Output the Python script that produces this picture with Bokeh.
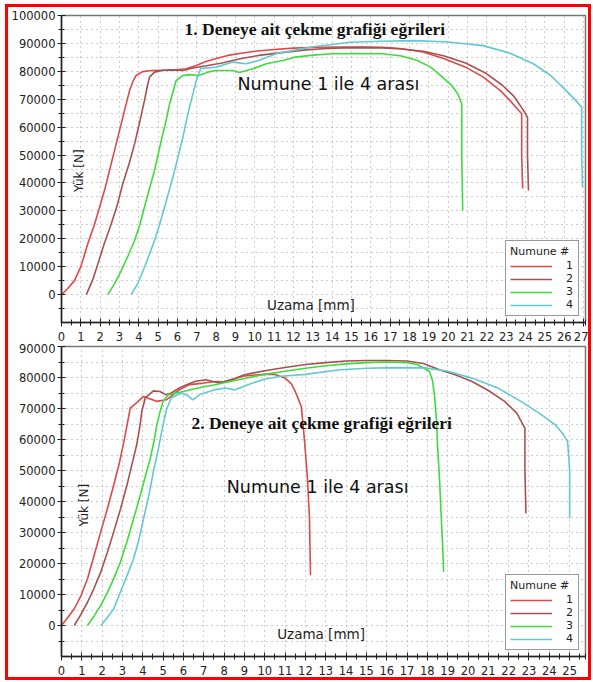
from math import pi
from bokeh.plotting import figure
from bokeh.layouts import column, row
from bokeh.models import FixedTicker, BasicTickFormatter, Label, Spacer
from bokeh.embed import file_html
from bokeh.resources import INLINE

# ---------------- data: test 1 ----------------
t1_x1 = [0, 0.3, 0.67, 1.0, 1.36, 1.7, 1.97, 2.25, 2.48, 2.83, 3.17, 3.52, 3.7, 3.86, 4.2, 4.64, 5.2, 5.8, 6.45, 7.0, 7.4, 8.0,
         8.6, 9.3, 10.0, 11.0, 12.0, 13.2, 14.5, 15.5, 16.6, 17.5, 18.7, 19.8, 20.9, 21.8, 22.7, 23.2, 23.5, 23.8, 23.8, 23.85]
t1_y1 = [0, 2000, 5000, 10000, 18200, 25000, 31300, 38000, 44400, 54000, 63500, 73100, 76500, 78500, 79900, 80300, 80400, 80500,
         80900, 82200, 83300, 84600, 85700, 86500, 87200, 87800, 88300, 88600, 88700, 88700, 88600, 88200, 86900, 84500, 81500,
         78000, 73100, 69500, 67100, 64800, 50000, 38000]
t1_x2 = [1.28, 1.6, 1.88, 2.2, 2.57, 2.9, 3.17, 3.5, 3.78, 4.05, 4.29, 4.45, 4.55, 4.81, 5.2, 5.8, 6.3, 6.8, 7.5, 8.3, 9.3, 10.3,
         11.5, 12.5, 13.5, 14.5, 15.5, 16.6, 17.6, 18.7, 19.8, 20.9, 21.9, 22.8, 23.4, 23.8, 24.1, 24.1, 24.15]
t1_y2 = [0, 5000, 11000, 18000, 25300, 32500, 39700, 47000, 54000, 62000, 69500, 75000, 77900, 79700, 80300, 80500, 80300, 81200,
         82000, 83000, 84600, 85800, 86800, 87600, 88100, 88400, 88500, 88400, 88000, 87200, 85500, 83000, 79500, 75000, 71000,
         67000, 63600, 50000, 37300]
t1_x3 = [2.4, 2.75, 3.09, 3.45, 3.78, 4.05, 4.29, 4.55, 4.81, 5.16, 5.4, 5.59, 5.8, 5.93, 6.28, 6.6, 7.1, 7.6, 8.0, 8.86, 9.2,
         9.9, 10.6, 11.45, 12.1, 13.0, 14.0, 15.3, 16.6, 17.6, 18.4, 19.1, 19.7, 20.2, 20.5, 20.7, 20.7, 20.75]
t1_y3 = [0, 4000, 8600, 14000, 19400, 25000, 31300, 38000, 44400, 55200, 62000, 68300, 73500, 76700, 78500, 78800, 78500, 79800,
         80300, 80300, 79600, 80900, 82700, 83900, 85100, 85800, 86300, 86400, 86300, 85500, 83900, 81500, 77900, 74800, 71900,
         68300, 50000, 30100]
t1_x4 = [3.6, 3.95, 4.29, 4.55, 4.81, 5.07, 5.33, 5.6, 5.85, 6.05, 6.28, 6.45, 6.62, 6.8, 6.97, 7.05, 7.2, 8.0, 8.86, 9.55, 10.2,
         11.1, 12.0, 13.0, 14.0, 14.9, 16.5, 18.3, 20.0, 21.8, 23.2, 24.4, 25.3, 26.1, 26.6, 26.9, 26.9, 26.95]
t1_y4 = [0, 4000, 9800, 14500, 19400, 25000, 31300, 38000, 44400, 50000, 56400, 62000, 67100, 72000, 76700, 78200, 81000, 81500,
         83300, 82700, 83900, 86300, 87500, 88800, 89600, 90400, 90800, 91000, 90500, 89200, 86500, 82700, 78500, 73100, 69500,
         67100, 50000, 38500]

# ---------------- data: test 2 ----------------
t2_x1 = [0, 0.3, 0.63, 0.95, 1.28, 1.6, 1.93, 2.25, 2.57, 2.85, 3.07, 3.25, 3.38, 3.6, 3.85, 4.04, 4.3, 4.68, 5.16, 5.5, 5.8,
         6.3, 7.0, 7.6, 8.0, 8.9, 9.5, 10.0, 10.5, 11.0, 11.3, 11.5, 11.8, 11.96, 12.1, 12.2, 12.25]
t2_y1 = [0, 2500, 5400, 9500, 15100, 22500, 30200, 37500, 45300, 52500, 59300, 65500, 70100, 71300, 72800, 73900, 73200, 72300,
         72800, 74500, 76000, 77700, 78200, 78700, 78500, 80400, 80800, 81000, 81000, 79800, 78000, 75500, 70600, 59300, 47500,
         34500, 16200]
t2_x2 = [0.63, 0.95, 1.28, 1.6, 1.93, 2.25, 2.57, 2.9, 3.22, 3.45, 3.70, 3.85, 3.95, 4.12, 4.3, 4.52, 4.84, 5.16, 5.4, 5.8, 6.15,
         6.6, 7.1, 7.75, 8.5, 9.0, 10.0, 11.0, 12.0, 13.0, 14.0, 15.0, 16.0, 17.0, 17.8, 18.6, 19.4, 20.2, 21.0, 21.8, 22.4, 22.8,
         22.8, 22.85]
t2_y2 = [0, 3500, 7500, 12000, 17200, 23500, 30200, 37500, 45300, 51500, 58300, 64000, 69000, 73400, 74500, 75700, 75500, 74400,
         75000, 76600, 77700, 78800, 79300, 78200, 79600, 80900, 82200, 83200, 84200, 84800, 85300, 85500, 85500, 85300, 84500,
         82500, 80800, 78700, 75800, 72300, 68500, 63600, 50000, 36100]
t2_x3 = [1.28, 1.6, 1.93, 2.25, 2.57, 2.9, 3.22, 3.55, 3.88, 4.12, 4.37, 4.55, 4.69, 4.85, 5.0, 5.25, 5.6, 6.0, 6.5, 7.0, 7.5, 8.0,
         9.0, 10.0, 11.0, 12.0, 13.0, 14.0, 15.0, 16.0, 17.0, 17.5, 18.1, 18.25, 18.35, 18.45, 18.5, 18.6, 18.67, 18.75, 18.8]
t2_y3 = [0, 3000, 6500, 10500, 15100, 20500, 27000, 34500, 42100, 48000, 53900, 59500, 64700, 69000, 72300, 74400, 74900, 75500,
         76300, 77000, 77600, 78300, 79700, 81000, 82000, 83000, 83800, 84400, 84800, 85000, 84800, 84200, 82000, 79000, 74400,
         66000, 58300, 47000, 36700, 26000, 17300]
t2_x4 = [1.93, 2.25, 2.57, 2.9, 3.22, 3.55, 3.8, 4.04, 4.3, 4.52, 4.75, 4.93, 5.16, 5.4, 5.9, 6.2, 6.46, 6.8, 7.5, 8.07, 8.5, 9.4,
         10.0, 10.8, 12.0, 13.7, 15.0, 16.5, 17.9, 19.0, 20.2, 21.5, 22.6, 23.5, 24.3, 24.7, 24.9, 25.0, 25.0]
t2_y4 = [0, 2500, 5400, 10800, 16000, 21600, 27500, 34500, 42000, 49600, 56500, 62600, 69600, 73400, 75000, 74200, 72800, 74500,
         76000, 76600, 76000, 78200, 79500, 80400, 81000, 82500, 83000, 83200, 83100, 82000, 79800, 76500, 72300, 68500, 64700,
         61500, 59300, 50000, 34500]

series_names = ["1", "2", "3", "4"]
series_colors = ["#e04848", "#a85050", "#3ddc3d", "#62c9d2"]

x_ticks_1 = list(range(0, 28))
x_ticks_2 = list(range(0, 26))
y_ticks_1 = list(range(0, 100001, 10000))
y_ticks_2 = list(range(0, 90001, 10000))

title_1 = "1. Deneye ait çekme grafiği eğrileri"
title_2 = "2. Deneye ait çekme grafiği eğrileri"
note_text = "Numune 1 ile 4 arası"
x_label = "Uzama [mm]"
y_label = "Yük [N]"
legend_title = "Numune #"


def make_fig(xs, ys, x_end, y_end, x_ticks, y_ticks, height, mb_top, mb_left, mb_right,
             title, title_pos, note_pos, xlab_pos, ylab_pos):
    p = figure(width=580, height=height, x_range=(0, x_end), y_range=(-10000, y_end),
               output_backend="svg", toolbar_location=None,
               min_border_top=mb_top, min_border_left=mb_left, min_border_right=mb_right,
               min_border_bottom=0, background_fill_color="white", border_fill_color="white")
    p.outline_line_color = "#777777"
    p.outline_line_width = 1.5

    xminor = [t + 0.5 for t in x_ticks] + [x_end]
    yminor = [t - 5000 for t in y_ticks] + [y_ticks[-1] + 5000]
    p.xaxis.ticker = FixedTicker(ticks=x_ticks, minor_ticks=xminor)
    p.yaxis.ticker = FixedTicker(ticks=y_ticks, minor_ticks=yminor)
    p.yaxis.formatter = BasicTickFormatter(use_scientific=False)
    for ax in (p.xaxis[0], p.yaxis[0]):
        ax.axis_line_color = "#222222"
        ax.axis_line_width = 1.5
        ax.major_tick_in = 4
        ax.major_tick_out = 4
        ax.minor_tick_in = 3
        ax.minor_tick_out = 3
        ax.major_tick_line_color = "#222222"
        ax.minor_tick_line_color = "#222222"
        ax.major_label_text_font = "DejaVu Sans"
        ax.major_label_text_font_size = "11.5px"
        ax.major_label_text_color = "#222222"
    p.xaxis.major_label_standoff = 5
    p.yaxis.major_label_standoff = 2

    p.xgrid.ticker = FixedTicker(ticks=x_ticks)
    p.ygrid.ticker = FixedTicker(ticks=[t for t in yminor] + y_ticks)
    for g in (p.xgrid[0], p.ygrid[0]):
        g.grid_line_color = "#9a9a9a"
        g.grid_line_dash = "1 4"
        g.grid_line_width = 1

    for x, y, name, color in zip(xs, ys, series_names, series_colors):
        p.line(x, y, line_color=color, line_width=1.6, legend_label=name)

    lg = p.legend[0]
    lg.title = legend_title
    lg.title_text_font = "DejaVu Sans"
    lg.title_text_font_size = "11px"
    lg.title_text_font_style = "normal"
    lg.title_text_color = "#222222"
    lg.title_standoff = 1
    lg.label_text_font = "DejaVu Sans"
    lg.label_text_font_size = "11px"
    lg.label_text_color = "#222222"
    lg.label_height = 12
    lg.glyph_height = 12
    lg.glyph_width = 42
    lg.label_standoff = 14
    lg.label_width = 8
    lg.spacing = 0
    lg.padding = 4
    lg.margin = 6
    lg.location = "bottom_right"
    lg.border_line_color = "#333333"
    lg.border_line_width = 1.5
    lg.background_fill_alpha = 1

    p.add_layout(Label(x=title_pos[0], y=title_pos[1], text=title, text_align="center", text_baseline="middle",
                       text_font="Liberation Serif", text_font_style="bold", text_font_size="17.5px",
                       text_color="#111111"))
    p.add_layout(Label(x=note_pos[0], y=note_pos[1], text=note_text, text_align="center", text_baseline="middle",
                       text_font="DejaVu Sans", text_font_size="17.5px", text_color="#111111"))
    p.add_layout(Label(x=xlab_pos[0], y=xlab_pos[1], text=x_label, text_align="center", text_baseline="middle",
                       text_font="DejaVu Sans", text_font_size="13.5px", text_color="#222222"))
    p.add_layout(Label(x=ylab_pos[0], y=ylab_pos[1], text=y_label, text_align="center", text_baseline="middle",
                       angle=pi / 2, text_font="DejaVu Sans", text_font_size="12px", text_color="#222222"))
    return p


p1 = make_fig([t1_x1, t1_x2, t1_x3, t1_x4], [t1_y1, t1_y2, t1_y3, t1_y4], 27.1, 100000,
              x_ticks_1, y_ticks_1, 336, 8, 53, 3,
              title_1, (13.1, 95300), (13.8, 75300), (12.9, -3600), (0.88, 44400))
p2 = make_fig([t2_x1, t2_x2, t2_x3, t2_x4], [t2_y1, t2_y2, t2_y3, t2_y4], 25.78, 90000,
              x_ticks_2, y_ticks_2, 334, 3, 49, 0,
              title_2, (12.8, 65400), (12.6, 44700), (12.77, -2900), (1.1, 38800))

RED = {"background-color": "#ff0000"}
plots = column(p1, p2, spacing=0)
middle = row(Spacer(width=3, height=670, styles=RED), plots, Spacer(width=3, height=670, styles=RED), spacing=0)
framed = column(Spacer(width=586, height=3, styles=RED), middle, Spacer(width=586, height=3, styles=RED), spacing=0)
layout = column(Spacer(height=4, width=10), row(Spacer(width=5, height=10), framed, spacing=0), spacing=0)

with open("out.html", "w") as f:
    f.write(file_html(layout, INLINE))
